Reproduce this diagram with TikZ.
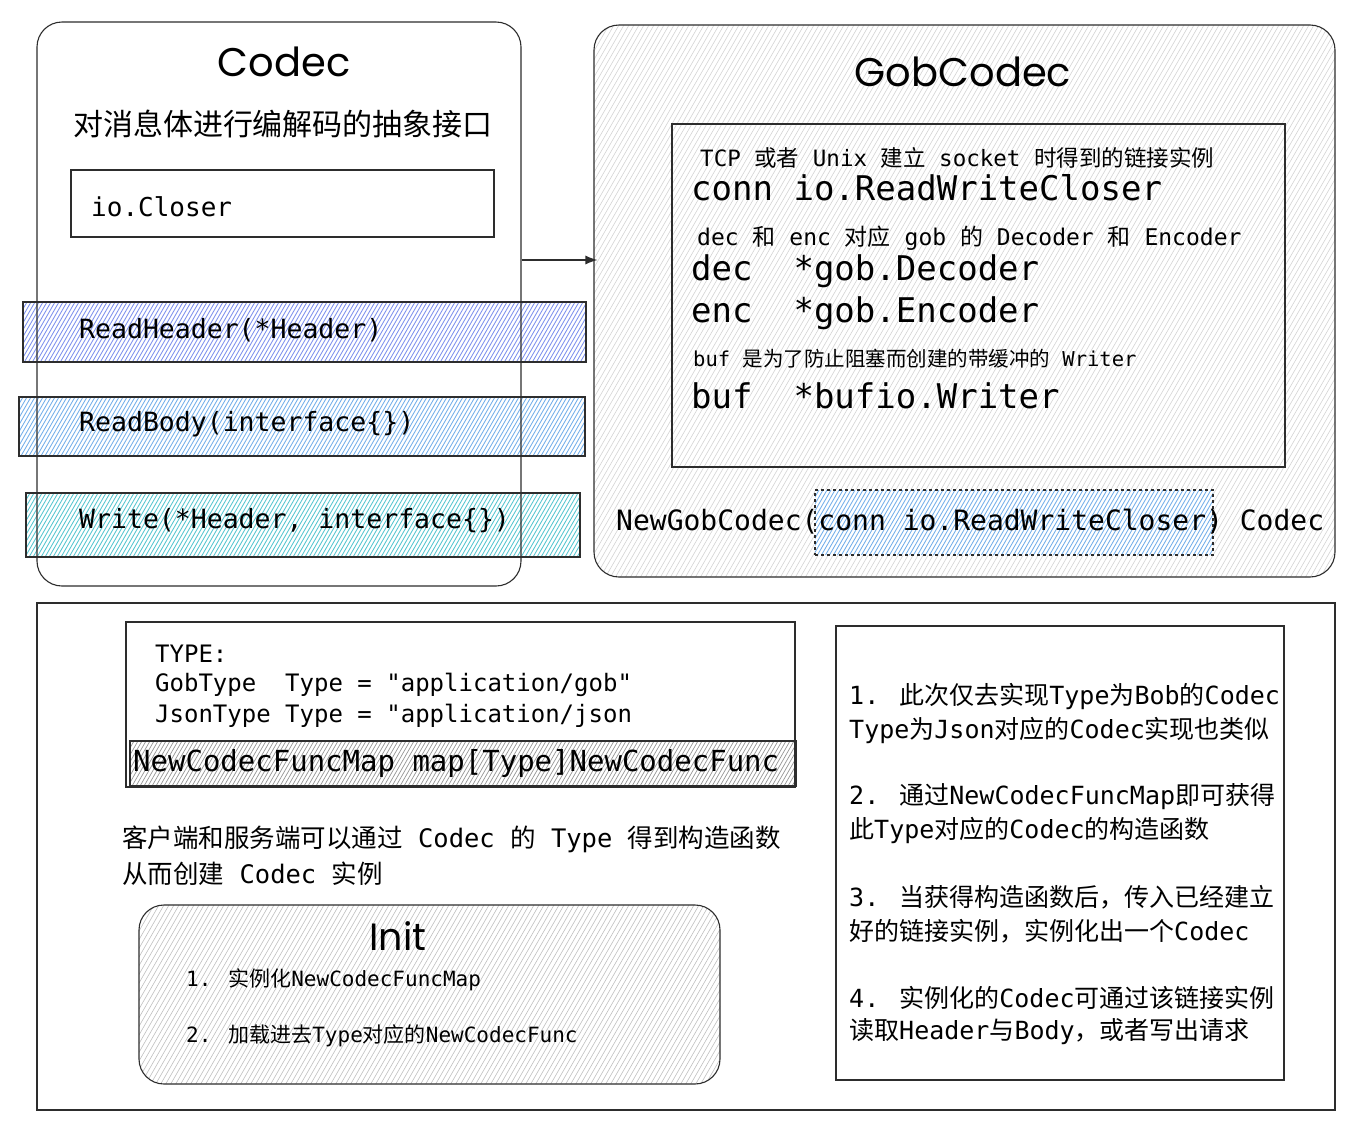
\documentclass[tikz,border=0pt]{standalone}
\usepackage{fontspec}
\setmainfont{DejaVu Sans Mono}[Ligatures=TeXOff]
\newfontfamily\zhfont{Noto Sans CJK SC}
\newfontfamily\titlefont{Poppins}
\usetikzlibrary{arrows.meta}
\newcommand\zh[1]{{\zhfont #1}}
\newcommand\fs[1]{\fontsize{#1}{#1}\selectfont}
\definecolor{linec}{RGB}{45,45,45}
\definecolor{rhc}{RGB}{125,145,238}
\definecolor{rbc}{RGB}{115,175,235}
\definecolor{wrc}{RGB}{85,198,208}
\definecolor{gobc}{RGB}{212,212,212}
\definecolor{hlc}{RGB}{115,175,235}
\definecolor{ncc}{RGB}{150,150,150}
\definecolor{initc}{RGB}{192,192,192}
% #1 x0, #2 y0, #3 x1, #4 y1, #5 line style, #6 corner radius, #7 step
\newcommand\hatchfill[7]{%
  \begin{scope}
    \clip[rounded corners=#6] (#1,#2) rectangle (#3,#4);
    \pgfmathsetmacro\hh{(#4-#2)*0.577}
    \pgfmathtruncatemacro\nn{(#3-#1+\hh)/#7+1}
    \foreach \k in {0,...,\nn}{%
      \pgfmathsetmacro\xs{#1-\hh+#7*\k}
      \draw[#5] (\xs,#4) -- ++(\hh,#2-#4);
    }
  \end{scope}}
\begin{document}
\begin{tikzpicture}[x=1pt,y=-1pt,
  box/.style={draw=linec, line width=1.1pt, inner sep=0pt},
  txt/.style={inner sep=0pt, anchor=west, text=black},
  ctxt/.style={inner sep=0pt, anchor=center, text=black},
  ttl/.style={ctxt, font=\titlefont\fs{40}},
]
\useasboundingbox[fill=white] (0,0) rectangle (1366,1141);

% ---------- hatching ----------
\hatchfill{594}{25}{1335}{577}{gobc, line width=0.6pt}{25pt}{5}
\hatchfill{23}{302}{586}{362}{rhc, line width=0.85pt}{0pt}{4}
\hatchfill{19}{397}{585}{456}{rbc, line width=0.85pt}{0pt}{4}
\hatchfill{26}{493}{580}{557}{wrc, line width=0.85pt}{0pt}{4}
\fill[white] (815,490) rectangle (1213,555);
\hatchfill{815}{490}{1213}{555}{hlc, line width=0.85pt}{0pt}{4}
\fill[white] (130,741) rectangle (796,786);
\hatchfill{130}{741}{796}{786}{ncc, line width=0.7pt}{0pt}{4}
\hatchfill{139}{905}{720}{1084}{initc, line width=0.6pt}{25pt}{5}

% ---------- Codec ----------
\node[box, rounded corners=25pt, minimum width=484pt, minimum height=564pt] (codec) at (279,304) {};
\node[ttl] (tcodec) at (284,62) {Codec};
\node[ctxt, font=\zhfont\fs{30}] (tsub) at (283,124) {对消息体进行编解码的抽象接口};
\node[box, minimum width=423pt, minimum height=67pt] (iobox) at (282.5,203.5) {};
\node[txt, font=\fs{26}] (tio) at (91,207) {io.Closer};
\node[box, minimum width=563pt, minimum height=60pt] (rh) at (304.5,332) {};
\node[txt, font=\fs{26.5}] (trh) at (79,330) {ReadHeader(*Header)};
\node[box, minimum width=566pt, minimum height=59pt] (rb) at (302,426.5) {};
\node[txt, font=\fs{26.5}] (trb) at (79,424) {ReadBody(interface\{\})};
\node[box, minimum width=554pt, minimum height=64pt] (wr) at (303,525) {};
\node[txt, font=\fs{26.5}] (twr) at (79,521) {Write(*Header, interface\{\})};

% ---------- GobCodec ----------
\node[box, rounded corners=25pt, minimum width=741pt, minimum height=552pt] (gob) at (964.5,301) {};
\node[ttl] (tgob) at (963,72) {GobCodec};
\node[box, minimum width=613pt, minimum height=343pt] (inner) at (978.5,295.5) {};
\node[txt, font=\fs{22.5}] (ttcp) at (700,158) {TCP \zh{或者} Unix \zh{建立} socket \zh{时得到的链接实例}};
\node[txt, font=\fs{34}] (tconn) at (691,188) {conn io.ReadWriteCloser};
\node[txt, font=\fs{23}] (tdec0) at (697,238) {dec \zh{和} enc \zh{对应} gob \zh{的} Decoder \zh{和} Encoder};
\node[txt, font=\fs{34}] (tdec) at (691,271) {dec\ \ *gob.Decoder};
\node[txt, font=\fs{34}] (tenc) at (691,313) {enc\ \ *gob.Encoder};
\node[txt, font=\fs{20.5}] (tbuf0) at (693,359) {buf \zh{是为了防止阻塞而创建的带缓冲的} Writer};
\node[txt, font=\fs{34}] (tbuf) at (691,396) {buf\ \ *bufio.Writer};
\node[box, dashed, minimum width=398pt, minimum height=65pt] (hl) at (1014,522.5) {};
\node[txt, font=\fs{28}] (tnew) at (616,522) {NewGobCodec(conn io.ReadWriteCloser) Codec};

\coordinate (ay) at (0,260);
\draw[line width=1.1pt, draw=linec, -{Latex[length=12pt,width=9pt]}] (codec.east |- ay) -- ([xshift=4pt]gob.west |- ay);

% ---------- bottom ----------
\node[box, minimum width=1298pt, minimum height=507pt] (frame) at (686,856.5) {};
\node[box, minimum width=669pt, minimum height=165pt] (typebox) at (460.5,704.5) {};
\node[txt, font=\fs{24}] (tty1) at (155,654) {TYPE:};
\node[txt, font=\fs{24}] (tty2) at (155,685) {GobType\ \ Type = "application/gob"};
\node[txt, font=\fs{24}] (tty3) at (155,716) {JsonType Type = "application/json};
\node[box, minimum width=666pt, minimum height=45pt] (ncfm) at (463,763.5) {};
\node[txt, font=\fs{29}] (tncfm) at (133,763) {NewCodecFuncMap map[Type]NewCodecFunc};
\node[txt, font=\fs{25.5}] (tcs1) at (122,839) {\zh{客户端和服务端可以通过} Codec \zh{的} Type \zh{得到构造函数}};
\node[txt, font=\fs{25.5}] (tcs2) at (122,874) {\zh{从而创建} Codec \zh{实例}};

\node[box, rounded corners=25pt, minimum width=581pt, minimum height=179pt] (init) at (429.5,994.5) {};
\node[ttl, font=\titlefont\fs{38}] (tinit) at (398,936) {Init};
\node[txt, font=\fs{21}] (ti1) at (186,980) {1. \zh{实例化}NewCodecFuncMap};
\node[txt, font=\fs{21}] (ti2) at (186,1036) {2. \zh{加载进去}Type\zh{对应的}NewCodecFunc};

\node[box, minimum width=448pt, minimum height=454pt] (notes) at (1060,853) {};
\node[txt, font=\fs{25}] (tn1) at (849,697) {1. \zh{此次仅去实现}Type\zh{为}Bob\zh{的}Codec};
\node[txt, font=\fs{25}] (tn2) at (849,730) {Type\zh{为}Json\zh{对应的}Codec\zh{实现也类似}};
\node[txt, font=\fs{25}] (tn3) at (849,797) {2. \zh{通过}NewCodecFuncMap\zh{即可获得}};
\node[txt, font=\fs{25}] (tn4) at (849,830) {\zh{此}Type\zh{对应的}Codec\zh{的构造函数}};
\node[txt, font=\fs{25}] (tn5) at (849,897) {3. \zh{当获得构造函数后，传入已经建立}};
\node[txt, font=\fs{25}] (tn6) at (849,931) {\zh{好的链接实例，实例化出一个}Codec};
\node[txt, font=\fs{25}] (tn7) at (849,998) {4. \zh{实例化的}Codec\zh{可通过该链接实例}};
\node[txt, font=\fs{25}] (tn8) at (849,1032) {\zh{读取}Header\zh{与}Body\zh{，或者写出请求}};
\end{tikzpicture}
\end{document}
